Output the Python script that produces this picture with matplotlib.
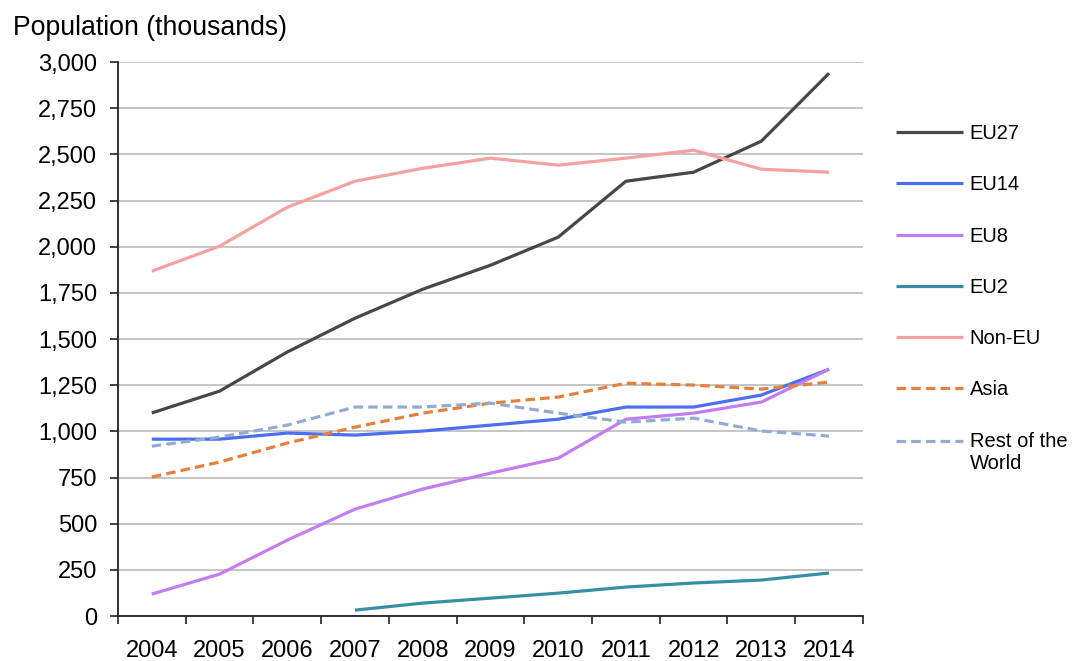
"""
Population by country-of-birth group, 2004-2014 (thousands).
"""

import numpy as np
from matplotlib import pyplot

years = ['2004', '2005', '2006', '2007', '2008', '2009',
         '2010', '2011', '2012', '2013', '2014']

eu27 = [1100, 1218, 1430, 1613, 1770, 1900, 2052, 2355, 2404, 2572, 2940]
eu14 = [958, 958, 991, 980, 1002, 1034, 1066, 1132, 1132, 1197, 1337]
eu8 = [119, 227, 411, 579, 688, 774, 855, 1066, 1099, 1159, 1337]
eu2 = [None, None, None, 32, 70, 97, 124, 157, 179, 195, 233]
non_eu = [1868, 2003, 2214, 2355, 2425, 2480, 2442, 2480, 2523, 2420, 2404]
asia = [753, 834, 937, 1023, 1099, 1153, 1186, 1261, 1251, 1229, 1267]
rest_world = [920, 969, 1034, 1132, 1132, 1153, 1099, 1050, 1072, 1002, 975]

series = [
    ('EU27', eu27, '#474747', 'solid'),
    ('EU14', eu14, '#4a6ff0', 'solid'),
    ('EU8', eu8, '#c07ef2', 'solid'),
    ('EU2', eu2, '#3590a3', 'solid'),
    ('Non-EU', non_eu, '#f4a1a1', 'solid'),
    ('Asia', asia, '#e6803a', 'dashed'),
    ('Rest of the\nWorld', rest_world, '#93aad3', 'dashed'),
]

pyplot.rc('font', family=['Liberation Sans', 'DejaVu Sans'], size=17)
fig = pyplot.figure(figsize=(10.72, 6.61), dpi=100)
ax = fig.add_axes([0.110, 0.068, 0.695, 0.838])

x = np.arange(len(years))
for label, values, color, style in series:
    y = np.array([np.nan if v is None else v for v in values], dtype=float)
    line, = ax.plot(x, y, color=color, lw=2.3, label=label,
                    solid_capstyle='butt')
    if style == 'dashed':
        line.set_dashes((3, 1.6))

ax.set_xlim(-0.5, len(years) - 0.5)
ax.set_ylim(0, 3000)
ax.set_yticks(np.arange(0, 3001, 250))
ax.set_yticklabels([f'{v:,}' for v in range(0, 3001, 250)])
ax.set_xticks(np.arange(-0.5, len(years), 1.0))
ax.set_xticklabels([])
ax.set_xticks(x, minor=True)
ax.set_xticklabels(years, minor=True)
ax.tick_params(axis='x', which='minor', length=0, pad=17)
ax.tick_params(axis='x', which='major', length=6, width=1.2, color='#222222')
ax.tick_params(axis='y', length=6, width=1.2, color='#222222', pad=9)
ax.grid(axis='y', color='#c0c0c0', lw=1.3)
ax.set_axisbelow(True)
for side in ('top', 'right'):
    ax.spines[side].set_visible(False)
for side in ('left', 'bottom'):
    ax.spines[side].set_color('#222222')
    ax.spines[side].set_linewidth(1.3)

fig.text(0.012, 0.957, 'Population (thousands)', fontsize=19.2, va='center')

leg = ax.legend(loc='upper left', bbox_to_anchor=(1.044, 0.888),
                frameon=False, fontsize=14.5, handlelength=3.33,
                handletextpad=0.35, labelspacing=1.6, borderaxespad=0,
                borderpad=0)
# two-line entry: put its line sample level with the first text line
last = leg.legend_handles[-1]
last.set_ydata(np.asarray(last.get_ydata()) + 8)

fig.savefig('out.png', dpi=100)
